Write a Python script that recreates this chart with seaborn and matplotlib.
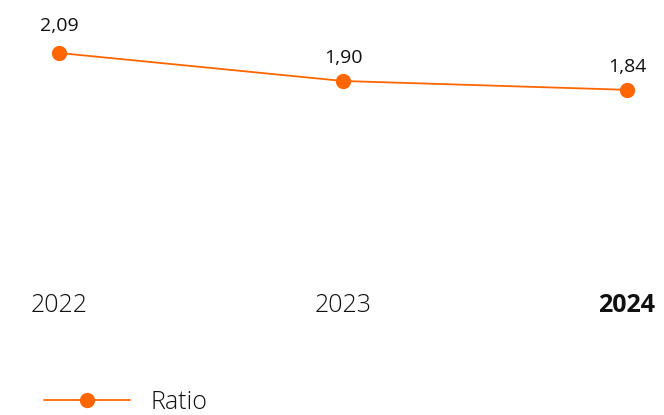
import matplotlib
matplotlib.use("Agg")
import matplotlib.pyplot as plt
import seaborn as sns
import pandas as pd

years = ["2022", "2023", "2024"]
ratio = [2.09, 1.90, 1.84]
series_name = "Ratio"

sns.set_style("white")
plt.rcParams["font.family"] = ["Open Sans", "DejaVu Sans"]

color = "#FF6600"
df = pd.DataFrame({"pos": range(len(years)), "value": ratio})

fig = plt.figure(figsize=(6.64, 4.15), dpi=100)
ax = fig.add_axes([59/664, (415-280)/415, (627-59)/664, 240/415])

sns.lineplot(data=df, x="pos", y="value", ax=ax, color=color, linewidth=1.3,
             marker="o", markersize=11, markeredgewidth=0, label=series_name,
             clip_on=False, legend=False)

ax.set_xlim(0, len(years) - 1)
ax.set_ylim(0.55, 2.178)
ax.set_yticks([])
ax.set_xticks(range(len(years)))
ax.set_xticklabels(years, fontsize=18, fontweight="light")
ax.get_xticklabels()[-1].set_fontweight("bold")
ax.tick_params(axis="x", length=0, pad=9, colors="#111111")
ax.set_xlabel("")
ax.set_ylabel("")
for s in ax.spines.values():
    s.set_visible(False)

offsets = [16, 13, 13]
for i, v in enumerate(ratio):
    ax.annotate(f"{v:.2f}".replace(".", ","), (i, v), xytext=(0, offsets[i]),
                textcoords="offset points", ha="center", va="baseline",
                fontsize=14, color="#111111")

handles, labels = ax.get_legend_handles_labels()
fig.legend(handles, labels, loc="center left", bbox_to_anchor=(44/664, 1 - 402/415),
           frameon=False, handlelength=3.45, handletextpad=0.8,
           borderpad=0, borderaxespad=0, labelcolor="#111111",
           prop={"size": 18, "weight": "light"})

fig.savefig("out.png", dpi=100)
